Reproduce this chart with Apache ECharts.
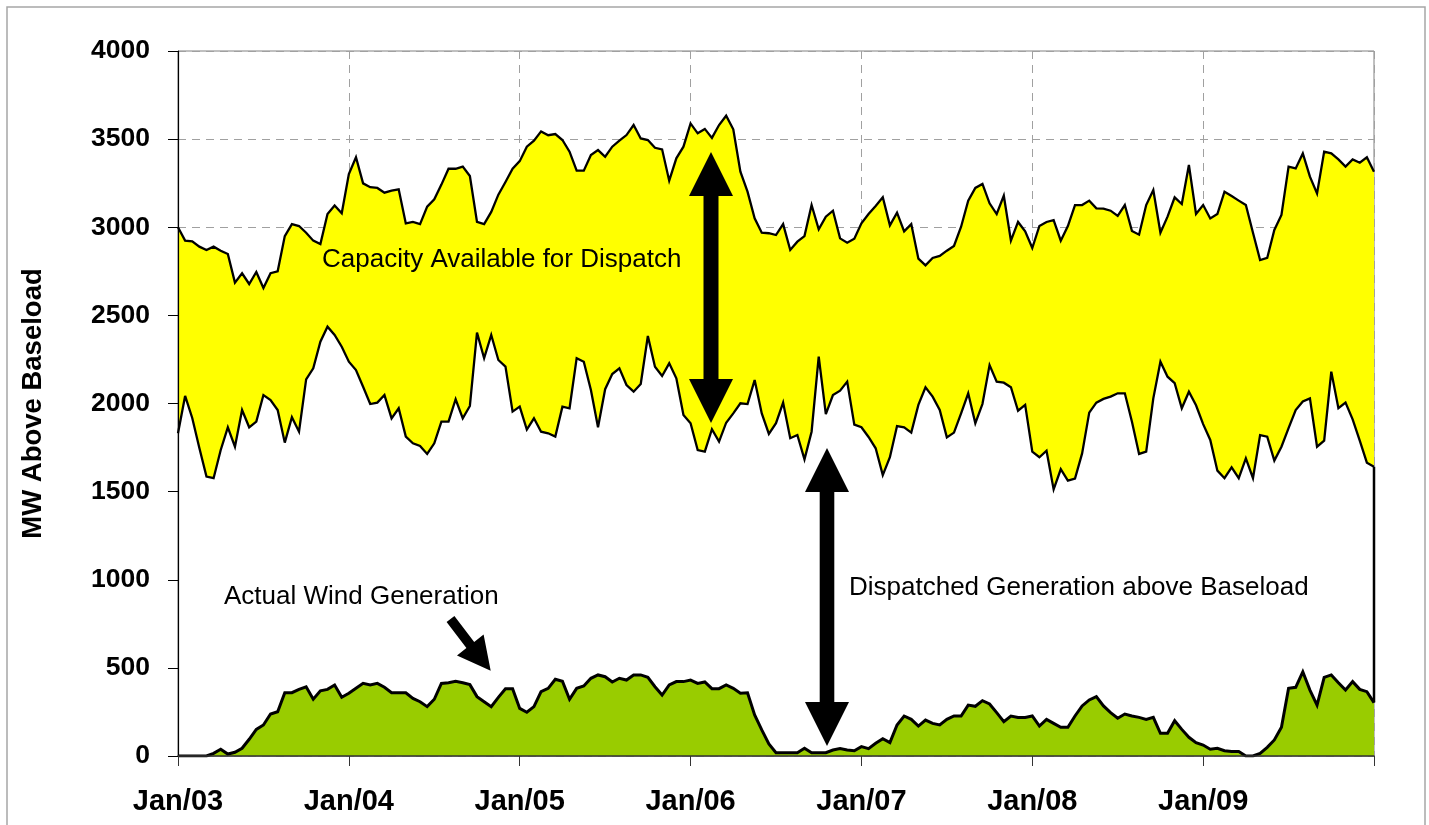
<!DOCTYPE html>
<html>
<head>
<meta charset="utf-8">
<script src="https://cdn.jsdelivr.net/npm/echarts@6/dist/echarts.min.js"></script>
<style>
html,body{margin:0;padding:0;background:#fff;}
#chart{width:1429px;height:825px;}
</style>
</head>
<body>
<div id="chart"></div>
<script>
// Half-monthly periods, Jan 2003 .. Jan 2010 (index 0..168)
const tickLabels = ['Jan/03','Jan/04','Jan/05','Jan/06','Jan/07','Jan/08','Jan/09',''];
const periodsPerYear = 24;

// Upper bound of capacity available for dispatch (MW above baseload)
const upper = [
3000,2924,2920,2890,2871,2890,2867,2848,2686,2739,2678,2746,2655,2739,2750,2950,3018,3007,2969,2924,
2905,3075,3124,3079,3302,3397,3249,3227,3223,3196,3208,3215,3022,3030,3018,3117,3159,3242,3332,3332,
3344,3291,3030,3018,3087,3185,3257,3332,3375,3457,3491,3544,3522,3529,3495,3429,3321,3321,3410,3438,
3400,3457,3491,3523,3580,3504,3495,3451,3442,3264,3391,3457,3589,3533,3558,3507,3580,3633,3556,3315,
3202,3051,2969,2966,2956,3018,2871,2918,2950,3126,2988,3060,3094,2937,2912,2935,3022,3075,3121,3170,
3011,3083,2977,3018,2822,2784,2826,2837,2867,2894,3003,3151,3223,3246,3136,3075,3179,2924,3030,2977,
2882,3007,3030,3041,2924,3007,3126,3126,3151,3107,3106,3094,3064,3126,2979,2958,3126,3211,2969,3060,
3170,3132,3353,3075,3126,3050,3075,3202,3177,3151,3126,2969,2814,2826,2985,3070,3344,3334,3419,3287,
3192,3429,3419,3385,3344,3385,3366,3397,3315
];

// Dispatched generation above baseload (lower bound of available capacity)
const lower = [
1831,2043,1918,1748,1585,1576,1736,1865,1755,1963,1865,1897,2048,2020,1963,1778,1922,1840,2137,2200,
2351,2436,2389,2322,2237,2190,2095,1997,2005,2048,1916,1973,1812,1774,1759,1714,1774,1897,1897,2024,
1916,1986,2402,2257,2389,2247,2209,1954,1982,1852,1916,1840,1831,1812,1982,1973,2257,2237,2077,1865,
2081,2167,2200,2105,2067,2111,2383,2209,2156,2228,2143,1935,1888,1736,1727,1854,1784,1891,1944,2001,
1997,2133,1944,1827,1888,2005,1803,1821,1683,1840,2266,1940,2048,2073,2124,1880,1865,1810,1746,1594,
1695,1872,1865,1835,1992,2092,2039,1963,1808,1835,1944,2058,1888,1997,2218,2124,2118,2092,1959,1992,
1727,1695,1732,1513,1627,1562,1574,1717,1948,2005,2026,2039,2058,2058,1897,1714,1727,2029,2237,2152,
2115,1973,2067,1990,1883,1793,1619,1576,1638,1576,1689,1576,1821,1812,1676,1755,1860,1963,2011,2029,
1755,1789,2181,1973,2005,1910,1789,1664,1641
];

// Actual wind generation
const wind = [
0,0,0,0,0,15,38,11,21,44,95,151,176,238,251,359,359,378,393,322,
370,378,403,333,356,384,412,403,412,390,359,359,359,327,308,280,322,412,416,424,
416,405,337,308,280,333,382,382,270,248,280,365,384,435,424,322,384,397,441,460,
450,420,441,431,460,460,446,393,346,403,422,422,431,412,420,382,382,403,384,356,
359,233,148,68,19,19,19,19,44,19,19,19,34,42,34,30,53,42,72,98,
76,176,227,208,170,204,185,176,208,227,227,289,282,314,295,246,195,227,219,219,
227,170,208,185,163,163,227,284,318,337,284,246,214,238,227,219,208,219,129,129,
200,151,106,76,62,38,44,30,25,25,0,0,15,49,91,163,384,390,478,374,
289,446,460,416,374,422,378,365,303
];

const lastIdx = upper.length - 1;
const toXY = arr => arr.map((v, i) => [i, v]);

const chart = echarts.init(document.getElementById('chart'), null, {renderer: 'canvas'});

const baseX = {type: 'value', min: 0, max: lastIdx, interval: periodsPerYear};
const baseY = {type: 'value', min: 0, max: 4000, interval: 500};

const labelFont = '"Liberation Sans", Arial, sans-serif';

chart.setOption({
  animation: false,
  backgroundColor: '#ffffff',
  grid: {
    left: 178, top: 51, right: 55, bottom: 69,
    show: true, borderColor: '#808080', borderWidth: 1, backgroundColor: 'transparent'
  },
  xAxis: [
    Object.assign({}, baseX, {
      position: 'bottom', z: 0,
      axisLine: {show: false}, axisTick: {show: false}, axisLabel: {show: false},
      splitLine: {show: true, lineStyle: {color: '#a0a0a0', width: 1, type: [8, 6]}}
    }),
    Object.assign({}, baseX, {
      position: 'bottom', z: 10,
      axisLine: {show: true, onZero: false, lineStyle: {color: '#333', width: 1.5}},
      axisTick: {show: true, inside: false, length: 10, lineStyle: {color: '#333', width: 1}},
      axisLabel: {
        show: true, margin: 31, color: '#000', fontFamily: labelFont, fontWeight: 'bold', fontSize: 29,
        formatter: v => tickLabels[Math.round(v / periodsPerYear)] || ''
      },
      splitLine: {show: false}
    })
  ],
  yAxis: [
    Object.assign({}, baseY, {
      position: 'left', z: 0,
      axisLine: {show: false}, axisTick: {show: false}, axisLabel: {show: false},
      splitLine: {show: true, lineStyle: {color: '#a0a0a0', width: 1, type: [8, 6]}}
    }),
    Object.assign({}, baseY, {
      position: 'left', z: 10,
      axisLine: {show: true, onZero: false, lineStyle: {color: '#000', width: 1.2}},
      axisTick: {show: true, inside: false, length: 10, lineStyle: {color: '#000', width: 1}},
      axisLabel: {show: true, margin: 28, color: '#000', fontFamily: labelFont, fontWeight: 'bold', fontSize: 26.5,
        formatter: v => String(v)},
      splitLine: {show: false},
      name: 'MW Above Baseload', nameLocation: 'middle', nameRotate: 90, nameGap: 131,
      nameTextStyle: {color: '#000', fontFamily: labelFont, fontWeight: 'bold', fontSize: 27.5}
    })
  ],
  series: [
    {
      name: 'Capacity Available for Dispatch', type: 'line', xAxisIndex: 0, yAxisIndex: 0,
      data: toXY(upper), symbol: 'none', z: 2,
      lineStyle: {color: '#000', width: 2.3, join: 'miter', miterLimit: 4},
      areaStyle: {color: '#FFFF00', opacity: 1}
    },
    {
      name: 'Dispatched Generation above Baseload', type: 'line', xAxisIndex: 0, yAxisIndex: 0,
      data: toXY(lower), symbol: 'none', z: 3,
      lineStyle: {color: '#000', width: 2.3, join: 'miter', miterLimit: 4},
      areaStyle: {color: '#FFFFFF', opacity: 1}
    },
    {
      name: 'Actual Wind Generation', type: 'line', xAxisIndex: 0, yAxisIndex: 0,
      data: toXY(wind), symbol: 'none', z: 4,
      lineStyle: {color: '#000', width: 3, join: 'miter', miterLimit: 4},
      areaStyle: {color: '#99CC00', opacity: 1}
    },
    {
      name: 'edge', type: 'line', xAxisIndex: 0, yAxisIndex: 0,
      data: [[lastIdx, wind[lastIdx]], [lastIdx, lower[lastIdx]]], symbol: 'none', z: 5,
      lineStyle: {color: '#000', width: 2.5}, silent: true
    }
  ],
  graphic: [
    {type: 'rect', z: 100, silent: true, shape: {x: 7, y: 7, width: 1418, height: 840},
     style: {fill: 'none', stroke: '#a6a6a6', lineWidth: 1.5}},
    // double arrow: capacity available
    {type: 'polygon', z: 100, silent: true, shape: {points: [
      [711,152],[733,196],[718.5,196],[718.5,379],[733,379],[711,423],[689,379],[703.5,379],[703.5,196],[689,196]
    ]}, style: {fill: '#000'}},
    // double arrow: dispatched generation
    {type: 'polygon', z: 100, silent: true, shape: {points: [
      [827,448],[849,492],[834.3,492],[834.3,702],[849,702],[827,746],[805,702],[819.7,702],[819.7,492],[805,492]
    ]}, style: {fill: '#000'}},
    // small arrow: wind generation
    {type: 'polygon', z: 100, silent: true, shape: {points: [
      [446.6,622.1],[466.4,648.1],[457,655.6],[490.7,670.7],[483.6,634.4],[474.2,641.9],[454.4,615.9]
    ]}, style: {fill: '#000'}},
    {type: 'text', z: 100, silent: true, x: 322, y: 260,
     style: {text: 'Capacity Available for Dispatch', fill: '#000', font: '26px "Liberation Sans", Arial, sans-serif', align: 'left', verticalAlign: 'middle'}},
    {type: 'text', z: 100, silent: true, x: 224, y: 597,
     style: {text: 'Actual Wind Generation', fill: '#000', font: '26px "Liberation Sans", Arial, sans-serif', align: 'left', verticalAlign: 'middle'}},
    {type: 'text', z: 100, silent: true, x: 849, y: 588,
     style: {text: 'Dispatched Generation above Baseload', fill: '#000', font: '26px "Liberation Sans", Arial, sans-serif', align: 'left', verticalAlign: 'middle'}}
  ]
});
</script>
</body>
</html>
